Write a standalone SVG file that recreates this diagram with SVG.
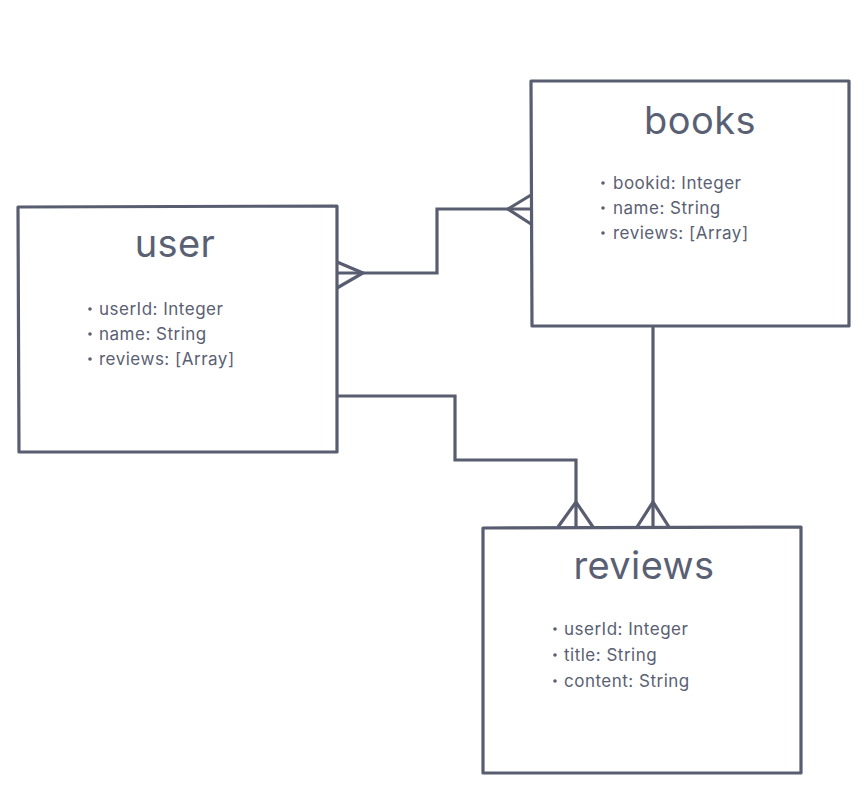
<svg xmlns="http://www.w3.org/2000/svg" width="867" height="792" viewBox="0 0 867 792">
<style>
.box{fill:#ffffff;stroke:#585e70;stroke-width:3.2;stroke-linejoin:round;stroke-linecap:round}
.ln{fill:none;stroke:#585e70;stroke-width:3.2;stroke-linejoin:miter;stroke-linecap:butt}
.title{font-family:Inter,"Liberation Sans",sans-serif;font-size:38px;fill:#5a6073;text-anchor:middle;letter-spacing:0.4px}
.attr{font-family:Inter,"Liberation Sans",sans-serif;font-size:17px;fill:#5a6073;letter-spacing:0.5px}
.dot{fill:#5a6073}
</style>
<rect width="867" height="792" fill="#ffffff"/>
<g id="connectors">
  <path class="ln" d="M337,273 H437 V209 H531"/>
  <path class="ln" d="M337,262 L363,273 L337,288"/>
  <path class="ln" d="M531,195 L508,209 L531,224"/>
  <path class="ln" d="M337,396 H455 V460 H576 V527"/>
  <path class="ln" d="M558,527 L576,502 L593,527"/>
  <path class="ln" d="M653,326 V527"/>
  <path class="ln" d="M637,527 L653,502 L669,527"/>
</g>
<g id="user">
  <path class="box" d="M18,207 L337,206 L337,452 L19,452 Z"/>
  <text class="title" x="175" y="257">user</text>
  <circle class="dot" cx="90" cy="309" r="1.8"/>
  <text class="attr" x="99" y="315">userId: Integer</text>
  <circle class="dot" cx="90" cy="334" r="1.8"/>
  <text class="attr" x="99" y="340">name: String</text>
  <circle class="dot" cx="90" cy="359" r="1.8"/>
  <text class="attr" x="99" y="365">reviews: [Array]</text>
</g>
<g id="books">
  <path class="box" d="M531,81 L849,81 L849,326 L532,326 Z"/>
  <text class="title" x="700" y="134">books</text>
  <circle class="dot" cx="603" cy="183" r="1.8"/>
  <text class="attr" x="613" y="189">bookid: Integer</text>
  <circle class="dot" cx="603" cy="208" r="1.8"/>
  <text class="attr" x="613" y="214">name: String</text>
  <circle class="dot" cx="603" cy="233" r="1.8"/>
  <text class="attr" x="613" y="239">reviews: [Array]</text>
</g>
<g id="reviews">
  <path class="box" d="M483,528 L801,527 L801,773 L483,773 Z"/>
  <text class="title" x="644" y="579">reviews</text>
  <circle class="dot" cx="555" cy="629" r="1.8"/>
  <text class="attr" x="564" y="635">userId: Integer</text>
  <circle class="dot" cx="555" cy="655" r="1.8"/>
  <text class="attr" x="564" y="661">title: String</text>
  <circle class="dot" cx="555" cy="681" r="1.8"/>
  <text class="attr" x="564" y="687">content: String</text>
</g>
</svg>
